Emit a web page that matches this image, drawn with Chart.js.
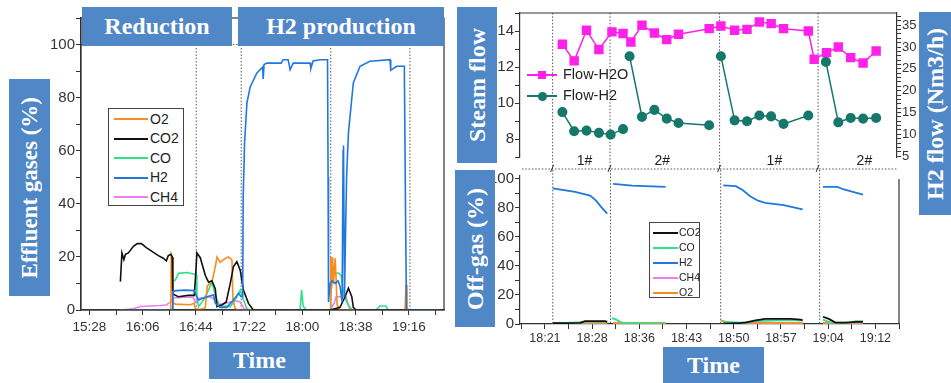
<!DOCTYPE html>
<html>
<head>
<meta charset="utf-8">
<title>Effluent gases during reduction and H2 production</title>
<script src="https://cdn.jsdelivr.net/npm/chart.js@4.4.1/dist/chart.umd.min.js"></script>
<style>
  body { margin: 0; background: #fff; }
  #wrap { position: relative; width: 951px; height: 383px; overflow: hidden; font-family: 'Liberation Sans', Arial, sans-serif; }
  canvas { position: absolute; }
  .box { position: absolute; background: #4f87c7; color: #fff; font-family: 'Liberation Serif', 'Times New Roman', serif;
         font-weight: bold; font-size: 24px; display: flex; align-items: center; justify-content: center; white-space: nowrap; }
  .vert span { writing-mode: vertical-rl; transform: rotate(180deg); }
  .legend { position: absolute; background: #fff; }
  .legend div { position: absolute; }
</style>
</head>
<body>
<div id="wrap">
  <canvas id="left" width="450" height="383" style="left:0;top:0"></canvas>
  <canvas id="flow" width="470" height="175" style="left:450px;top:0"></canvas>
  <canvas id="off" width="470" height="218" style="left:450px;top:165px"></canvas>

  <div class="box" style="left:82px;top:7px;width:150px;height:39px">Reduction</div>
  <div class="box" style="left:238px;top:7px;width:206px;height:39px">H2 production</div>
  <div class="box vert" style="left:9px;top:79px;width:41px;height:217px;font-size:23px"><span>Effluent gases (%)</span></div>
  <div class="box" style="left:209px;top:342px;width:101px;height:37px">Time</div>

  <div class="box vert" style="left:457px;top:7px;width:40px;height:156px"><span>Steam flow</span></div>
  <div class="box vert" style="left:455px;top:170px;width:40px;height:157px"><span>Off-gas (%)</span></div>
  <div class="box vert" style="left:919px;top:12px;width:33px;height:203px"><span>H2 flow (Nm3/h)</span></div>
  <div class="box" style="left:663px;top:347px;width:101px;height:36px">Time</div>
</div>
<script>
// ---- data (time in minutes after midnight) ----
const leftTimeLabels = ['15:28', '16:06', '16:44', '17:22', '18:00', '18:38', '19:16'];
const leftYLabels = [0, 20, 40, 60, 80, 100];
const leftMarks = [1004.2, 1036.3, 1100.2, 1156.7];

const gasNamesLeft = ['O2', 'CO2', 'CO', 'H2', 'CH4'];
const gasNamesOff = ['CO2', 'CO', 'H2', 'CH4', 'O2'];
const gasColors = { O2: '#f78c1f', CO2: '#111111', CO: '#2fe08a', H2: '#1f78e0', CH4: '#f07cf0' };

const h2Left = [[950.1,0],[987.1,0],[987.5,7],[990.0,7.3],[996.4,7.5],[1002.8,7.3],[1004.2,5.5],[1005.9,3.8],[1011.9,5],
  [1016.6,5.7],[1017.8,2.5],[1021.3,1],[1026.0,1],[1030.8,3.8],[1034.4,6.3],[1036.3,5],[1037.4,5],[1037.7,42],[1038.7,63],
  [1040.4,78],[1042.7,84],[1047.5,89.3],[1051.6,91.5],[1052.0,87],[1052.6,92.5],[1054.6,93],[1064.8,93],[1066.2,94.3],
  [1069.8,94.3],[1071.2,90.5],[1073.4,93],[1085.5,93],[1086.0,91],[1087.6,93.8],[1092.6,94.3],[1097.9,94.3],[1098.3,50],
  [1098.6,3],[1099.7,10],[1101.1,11],[1103.3,10],[1105.4,11],[1106.8,9],[1108.3,3],[1109.0,60],[1109.3,62],[1109.7,30],
  [1110.0,5],[1110.8,30],[1111.5,50],[1112.8,66.7],[1116.3,85.5],[1121.1,91.8],[1128.2,93.7],[1142.5,94.3],[1143.0,90.3],
  [1147.2,91.8],[1152.7,91.8],[1153.5,40],[1154.2,0],[1178.1,0]];
const co2Left = [[950.1,10.7],[951.2,21.5],[952.6,19],[953.7,21],[955.8,21.5],[959.4,24],[962.2,25],[965.1,25],[968.6,23.5],
  [972.9,22],[977.2,20.5],[980.7,19.5],[982.9,18.5],[984.3,20.5],[986.1,21],[987.1,20],[987.5,6],[991.4,5],[998.5,5.5],
  [1002.8,5.5],[1003.9,14],[1004.7,21.5],[1007.1,19.7],[1010.7,13],[1013.0,10.5],[1015.4,11],[1017.8,8],[1019.0,1.3],
  [1022.8,2],[1025.6,3],[1028.5,10],[1030.8,16.4],[1033.2,18.2],[1035.6,15],[1037.9,7.5],[1041.5,2.5],[1044.9,0],
  [1099.7,0],[1103.0,0.5],[1106.8,1],[1110.4,5],[1112.8,8.2],[1115.2,5],[1116.3,1],[1118.2,0],[1178.1,0]];
const coLeft = [[950.1,0],[987.1,0],[987.5,10.7],[989.3,11.3],[991.6,13.8],[997.6,14.1],[1002.4,13.6],[1004.2,13.2],
  [1004.7,5],[1005.9,1.3],[1009.5,3.8],[1013.0,7.5],[1015.4,10.7],[1017.1,7],[1019.0,3.8],[1021.3,1.2],[1024.9,1.5],
  [1028.5,1.2],[1033.2,5],[1035.6,7.5],[1037.9,3.8],[1040.4,0.5],[1042.7,0],[1078.3,0],[1079.4,7.5],[1080.5,1.5],
  [1082.6,0],[1099.7,0],[1100.2,5],[1101.1,12.6],[1102.6,13.5],[1105.4,14],[1107.6,13],[1109.7,5],[1112.5,2],[1115.4,0],
  [1132.5,0],[1135.3,1.5],[1139.6,1.5],[1141.0,0],[1178.1,0]];
const o2Left = [[950.1,0],[986.1,0],[986.4,21],[987.1,20],[987.5,3],[989.3,2.2],[1000.0,2],[1002.8,2.5],[1003.5,0.5],
  [1006.4,0.3],[1009.2,0.5],[1010.7,1],[1012.1,9],[1015.6,11],[1018.1,17],[1019.0,20],[1021.3,18],[1023.7,19],
  [1025.6,19.6],[1027.3,20],[1029.7,18.9],[1030.4,4],[1032.0,0.5],[1034.4,0],[1099.7,0],[1100.2,20],[1100.8,8],
  [1101.5,20],[1102.2,10],[1103.3,19.5],[1104.0,12],[1104.7,2],[1106.8,0],[1153.2,0],[1153.9,9.5],[1154.6,1],
  [1155.3,0],[1178.1,0]];
const ch4Left = [[950.1,0],[959.4,0.5],[964.3,1.3],[978.5,1.7],[982.9,1.9],[985.7,3],[987.9,4.5],[996.4,4.8],[1002.1,4.8],
  [1003.5,3],[1007.1,4.5],[1014.2,5],[1017.1,4],[1019.9,2],[1024.9,2.5],[1032.0,3.5],[1035.6,3],[1038.4,0.5],[1041.3,0],
  [1099.7,0],[1102.6,2.5],[1104.0,5],[1111.1,5],[1113.3,1],[1114.7,0],[1178.1,0]];

const rightTickTimes = [1101.6, 1108.8, 1116.0, 1123.2, 1130.4, 1137.6, 1144.8, 1152.0];
const rightMarks = [1102.8, 1111.6, 1128.4, 1143.5];
const runLabels = ['1#', '2#', '1#', '2#'];
const runLabelTimes = [1107.7, 1119.6, 1136.8, 1150.6];
const steamLabels = [8, 10, 12, 14];
const h2FlowLabels = [5, 10, 15, 20, 25, 30, 35];
const offGasLabels = [0, 20, 40, 60, 80, 100];

const flowH2O = [[1104.3,13.26],[1106.1,12.34],[1108.0,14.04],[1109.9,12.97],[1111.9,13.95],[1113.6,13.86],[1114.8,13.39],
  [1116.5,14.32],[1118.4,13.89],[1120.3,13.52],[1122.1,13.82],[1126.8,14.13],[1128.6,14.28],[1130.7,14.04],[1132.6,14.09],
  [1134.5,14.5],[1136.3,14.41],[1138.2,14.13],[1142.0,14.0],[1142.9,12.43],[1144.8,12.8],[1146.6,13.11],[1148.5,12.52],
  [1150.4,12.22],[1152.4,12.89]];
const flowH2 = [[1104.3,15.1],[1106.1,10.7],[1108.0,10.85],[1109.9,10.33],[1111.7,9.94],[1113.6,11.2],[1114.1,null],
  [1114.6,27.9],[1116.5,14.0],[1118.4,15.6],[1120.3,13.6],[1122.1,12.6],[1126.8,12.07],[1127.7,null],[1128.6,27.9],
  [1130.7,13.2],[1132.6,13.0],[1134.5,14.3],[1136.3,14.1],[1138.2,12.4],[1142.0,14.3],[1143.3,null],[1144.7,26.6],
  [1146.6,12.75],[1148.5,13.75],[1150.4,13.6],[1152.4,13.75]];

const h2Off = [[1102.8,93.4],[1106.2,91],[1108.5,88.5],[1109.4,85],[1110.3,80],[1111.1,76],[1111.5,null],[1112.0,96.6],
  [1114.9,95.4],[1120.0,94.5],[1124.0,null],[1128.8,95.6],[1130.7,95],[1131.7,92.5],[1132.9,88],[1134.1,85],[1135.2,83.5],
  [1138.0,82],[1140.9,79],[1142.0,null],[1144.0,94.5],[1146.2,94.5],[1147.2,92.7],[1150.1,89.2]];
const co2Off = [[1102.8,0.5],[1107.0,0.8],[1107.7,2],[1110.8,2],[1111.1,1.5],[1111.5,null],[1128.8,0.3],[1130.7,0.5],
  [1132.2,1],[1133.7,2.5],[1135.2,3.5],[1139.1,3.5],[1140.6,3],[1140.9,2.5],[1142.0,null],[1144.0,5],[1144.9,3.5],
  [1145.9,1],[1147.5,1],[1149.0,1.5],[1150.1,1.5]];
const coOff = [[1102.8,0.5],[1108.5,1.5],[1111.1,1.5],[1111.5,null],[1111.8,4],[1112.5,3],[1113.1,1.5],[1113.8,0.5],
  [1120.0,0.3],[1124.0,null],[1128.7,1.5],[1131.4,1],[1133.7,2],[1137.5,2.5],[1140.9,2.5],[1142.0,null],[1144.0,3],
  [1145.2,1],[1148.2,0.8],[1149.0,2],[1150.1,2]];
const ch4Off = [[1102.8,0.2],[1111.1,0.2],[1111.5,null],[1112.0,0.2],[1120.0,0.2],[1124.0,null],[1128.8,0.2],
  [1140.9,0.2],[1142.0,null],[1144.0,0.2],[1150.1,0.2]];
const o2Off = [[1102.8,0.8],[1111.1,0.8],[1111.5,null],[1112.0,0.8],[1120.0,0.8],[1124.0,null],[1128.4,2.5],[1129.6,1],
  [1140.9,0.8],[1142.0,null],[1144.0,1],[1150.1,1]];

// ---- helpers ----
const sans = "'Liberation Sans', Arial, sans-serif";
const toMin = s => { const [h, m] = s.split(':').map(Number); return h * 60 + m; };
const fmt = m => Math.floor(m / 60) + ':' + String(Math.floor(m % 60 + 1e-6)).padStart(2, '0');
const pts = arr => arr.map(([x, y]) => ({ x, y }));
const setTicks = values => scale => { scale.ticks = values.map(v => ({ value: v })); };
const near = (list, v) => list.findIndex(t => Math.abs(t - v) < 1e-6);

function axis(extra) {
  return Object.assign({
    grid: { drawOnChartArea: false, tickLength: 5, color: '#333', tickWidth: 1 },
    border: { color: '#333', width: 1.2 }
  }, extra);
}

function line(label, data, color, width, extra) {
  return Object.assign({ label, data: pts(data), borderColor: color, backgroundColor: color,
    borderWidth: width, pointRadius: 0, tension: 0 }, extra || {});
}

function dotted(ctx) { ctx.setLineDash([1.5, 1.8]); ctx.strokeStyle = '#555'; ctx.lineWidth = 1; }

// ---- left chart ----
const leftMajor = leftTimeLabels.map(toMin);
const leftXTicks = leftMajor.concat(leftMajor.map(v => v + 19)).sort((a, b) => a - b);

const leftDeco = {
  id: 'leftDeco',
  beforeDatasetsDraw(chart) {
    const { ctx, chartArea: a, scales: { x, y } } = chart;
    const top = y.getPixelForValue(100);
    ctx.save();
    dotted(ctx);
    leftMarks.forEach(t => {
      const px = x.getPixelForValue(t);
      ctx.beginPath(); ctx.moveTo(px, top); ctx.lineTo(px, a.bottom); ctx.stroke();
    });
    ctx.beginPath(); ctx.moveTo(a.left, top); ctx.lineTo(a.right, top); ctx.stroke();
    ctx.restore();
  },
  afterDatasetsDraw(chart) {
    const { ctx, chartArea: a } = chart;
    ctx.save();
    ctx.strokeStyle = '#333'; ctx.lineWidth = 1.2;
    ctx.strokeRect(a.left, a.top, a.right - a.left, a.bottom - a.top);
    ctx.restore();
  }
};

const leftSeries = { O2: o2Left, CO2: co2Left, CO: coLeft, H2: h2Left, CH4: ch4Left };

new Chart(document.getElementById('left'), {
  type: 'line',
  data: {
    datasets: ['H2', 'CO2', 'O2', 'CO', 'CH4'].map(n => line(n, leftSeries[n], gasColors[n], 1.6))
  },
  options: {
    responsive: false, animation: false, devicePixelRatio: 1,
    layout: { padding: { left: 0, right: 6, top: 18, bottom: 0 } },
    plugins: { legend: { display: false }, tooltip: { enabled: false } },
    scales: {
      x: axis({ type: 'linear', min: 922, max: 1181, afterBuildTicks: setTicks(leftXTicks),
        afterFit: s => { s.height = 73; },
        ticks: { autoSkip: false, maxRotation: 0, color: '#333', padding: 4, font: { family: sans, size: 13.5 },
          callback: v => { const i = near(leftMajor, v); return i >= 0 ? leftTimeLabels[i] : ''; } } }),
      y: axis({ min: 0, max: 110,
        afterBuildTicks: setTicks([0, 10, 20, 30, 40, 50, 60, 70, 80, 90, 100, 110]),
        afterFit: s => { s.width = 81; },
        ticks: { autoSkip: false, color: '#333', padding: 1, font: { family: sans, size: 15 },
          callback: v => leftYLabels.includes(v) ? String(v) : '' } })
    }
  },
  plugins: [leftDeco]
});

// ---- right charts ----
const rightXTicks = [rightTickTimes[0] - 3.6];
rightTickTimes.forEach(t => { rightXTicks.push(t, t + 3.6); });
const xMin = 1097.8, xMax = 1155.6;

const flowDeco = {
  id: 'flowDeco',
  beforeDatasetsDraw(chart) {
    const { ctx, chartArea: a, scales: { x } } = chart;
    const breakY = 169;
    ctx.save();
    dotted(ctx);
    rightMarks.forEach(t => {
      const px = x.getPixelForValue(t);
      ctx.beginPath(); ctx.moveTo(px, a.top); ctx.lineTo(px, breakY); ctx.stroke();
    });
    ctx.beginPath(); ctx.moveTo(a.left + 2, breakY); ctx.lineTo(a.right, breakY); ctx.stroke();
    ctx.setLineDash([]); ctx.strokeStyle = '#333';
    rightMarks.forEach(t => {
      const px = x.getPixelForValue(t);
      ctx.beginPath(); ctx.moveTo(px - 2, breakY + 3); ctx.lineTo(px + 1, breakY - 4); ctx.stroke();
    });
    ctx.lineWidth = 1.2;
    ctx.beginPath(); ctx.moveTo(a.left, a.top); ctx.lineTo(a.right, a.top); ctx.stroke();
    ctx.fillStyle = '#222'; ctx.font = '14px ' + sans; ctx.textAlign = 'center'; ctx.textBaseline = 'middle';
    runLabels.forEach((s, i) => ctx.fillText(s, x.getPixelForValue(runLabelTimes[i]), 161));
    ctx.restore();
  }
};

const h2FlowTicks = [];
for (let v = 5; v <= 37; v++) h2FlowTicks.push(v);

new Chart(document.getElementById('flow'), {
  type: 'line',
  data: {
    datasets: [
      line('Flow-H2O', flowH2O, '#ff20ea', 1.5, { yAxisID: 'y', pointStyle: 'rect', pointRadius: 5.6 }),
      line('Flow-H2', flowH2, '#15786a', 1.5, { yAxisID: 'y1', pointStyle: 'circle', pointRadius: 4.3 })
    ]
  },
  options: {
    responsive: false, animation: false, devicePixelRatio: 1,
    layout: { padding: { left: 0, right: 0, top: 13, bottom: 18 } },
    plugins: { legend: { display: false }, tooltip: { enabled: false } },
    scales: {
      x: { type: 'linear', display: false, min: xMin, max: xMax },
      y: axis({ position: 'left', min: 7, max: 15, afterBuildTicks: setTicks([7, 8, 9, 10, 11, 12, 13, 14, 15]),
        afterFit: s => { s.width = 70; },
        ticks: { autoSkip: false, color: '#333', padding: 1, font: { family: sans, size: 15 },
          callback: v => steamLabels.includes(v) ? String(v) : '' } }),
      y1: axis({ position: 'right', min: 4.8, max: 37.8, afterBuildTicks: setTicks(h2FlowTicks),
        afterFit: s => { s.width = 23; },
        grid: { drawOnChartArea: false, tickLength: 4, color: '#333' },
        ticks: { autoSkip: false, color: '#333', padding: 1, font: { family: sans, size: 13 },
          callback: v => h2FlowLabels.includes(v) ? String(v) : '' } })
    }
  },
  plugins: [flowDeco]
});

const offDeco = {
  id: 'offDeco',
  beforeDatasetsDraw(chart) {
    const { ctx, chartArea: a, scales: { x } } = chart;
    ctx.save();
    dotted(ctx);
    rightMarks.forEach(t => {
      const px = x.getPixelForValue(t);
      ctx.beginPath(); ctx.moveTo(px, 5); ctx.lineTo(px, a.bottom); ctx.stroke();
    });
    ctx.restore();
  },
  afterDatasetsDraw(chart) {
    const { ctx, chartArea: a } = chart;
    ctx.save();
    ctx.strokeStyle = '#333'; ctx.lineWidth = 1.2;
    ctx.beginPath(); ctx.moveTo(a.right, a.top + 3); ctx.lineTo(a.right, a.bottom); ctx.stroke();
    ctx.restore();
  }
};

const offSeries = { CO2: co2Off, CO: coOff, H2: h2Off, CH4: ch4Off, O2: o2Off };

new Chart(document.getElementById('off'), {
  type: 'line',
  data: { datasets: ['H2', 'CO2', 'CO', 'O2', 'CH4'].map(n => line(n, offSeries[n], gasColors[n], 1.8)) },
  options: {
    responsive: false, animation: false, devicePixelRatio: 1,
    layout: { padding: { left: 0, right: 21, top: 11, bottom: 0 } },
    plugins: { legend: { display: false }, tooltip: { enabled: false } },
    scales: {
      x: axis({ type: 'linear', min: xMin, max: xMax, afterBuildTicks: setTicks(rightXTicks),
        afterFit: s => { s.height = 59; },
        ticks: { autoSkip: false, maxRotation: 0, color: '#333', padding: 2, font: { family: sans, size: 12.5 },
          callback: v => near(rightTickTimes, v) >= 0 ? fmt(v) : '' } }),
      y: axis({ min: 0, max: 102, afterBuildTicks: setTicks([0, 10, 20, 30, 40, 50, 60, 70, 80, 90, 100]),
        afterFit: s => { s.width = 70; },
        ticks: { autoSkip: false, color: '#333', padding: 1, font: { family: sans, size: 15 },
          callback: v => offGasLabels.includes(v) ? String(v) : '' } })
    }
  },
  plugins: [offDeco]
});

// ---- legends (html) ----
const wrap = document.getElementById('wrap');
function makeLegend(names, colors, c) {
  const box = document.createElement('div');
  box.className = 'legend';
  Object.assign(box.style, { left: c.left + 'px', top: c.top + 'px', width: c.width + 'px', height: c.height + 'px',
    border: c.border ? '1px solid #444' : 'none', background: c.border ? '#fff' : 'transparent' });
  names.forEach((n, i) => {
    const cy = c.first + i * c.step;
    const ln = document.createElement('div');
    Object.assign(ln.style, { left: c.lineX + 'px', top: (cy - 1) + 'px', width: c.lineW + 'px', height: '2px', background: colors[i] });
    box.appendChild(ln);
    if (c.markers) {
      const mk = document.createElement('div');
      const sz = c.markers[i] === 'rect' ? 8 : 9;
      Object.assign(mk.style, { left: (c.lineX + c.lineW / 2 - sz / 2) + 'px', top: (cy - sz / 2) + 'px',
        width: sz + 'px', height: sz + 'px', background: colors[i], borderRadius: c.markers[i] === 'rect' ? '0' : '50%' });
      box.appendChild(mk);
    }
    const tx = document.createElement('div');
    tx.textContent = n;
    Object.assign(tx.style, { left: c.textX + 'px', top: (cy - c.font * 0.6) + 'px', fontSize: c.font + 'px',
      lineHeight: (c.font * 1.2) + 'px', color: '#222', whiteSpace: 'nowrap' });
    box.appendChild(tx);
  });
  wrap.appendChild(box);
}

makeLegend(gasNamesLeft, gasNamesLeft.map(n => gasColors[n]),
  { left: 108, top: 108, width: 74, height: 96, border: true, first: 10, step: 19.5, lineX: 5, lineW: 34, textX: 41, font: 14 });
makeLegend(gasNamesOff, gasNamesOff.map(n => gasColors[n]),
  { left: 649, top: 222, width: 49, height: 74, border: true, first: 9.5, step: 15, lineX: 3, lineW: 25, textX: 29, font: 10.5 });
makeLegend(['Flow-H2O', 'Flow-H2'], ['#ff20ea', '#15786a'],
  { left: 520, top: 60, width: 100, height: 46, border: false, first: 15, step: 21, lineX: 7, lineW: 30, textX: 43, font: 14.5,
    markers: ['rect', 'circle'] });
</script>
</body>
</html>
